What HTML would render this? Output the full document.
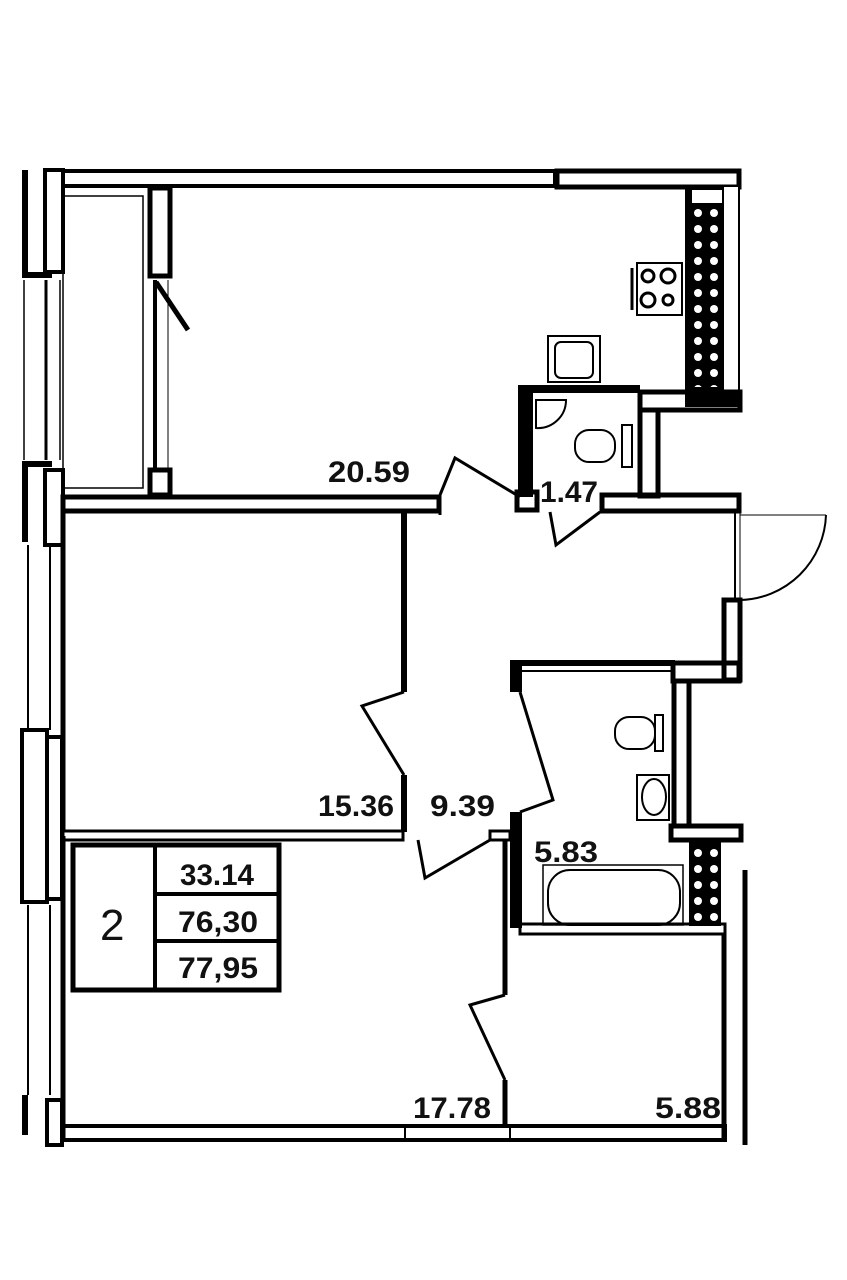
<!DOCTYPE html>
<html><head><meta charset="utf-8"><style>
html,body{margin:0;padding:0;background:#fff;width:847px;height:1280px;overflow:hidden}
svg{display:block}
text{font-family:"Liberation Sans",sans-serif;font-size:30px;fill:#111;font-weight:bold}
</style></head><body>
<svg width="847" height="1280" viewBox="0 0 847 1280" xmlns="http://www.w3.org/2000/svg">
<defs>
<pattern id="dots" x="690" y="205" width="16" height="16" patternUnits="userSpaceOnUse">
<rect width="16" height="16" fill="#000"/><circle cx="8" cy="8" r="4" fill="#fff"/>
</pattern>
</defs>
<g fill="none" stroke="#000">
<rect x="63" y="171" width="492" height="15" stroke-width="4"/>
<rect x="557" y="171" width="182" height="16" stroke-width="5"/>
<rect x="685" y="187" width="55" height="220" fill="#000" stroke="none"/>
<rect x="692" y="190" width="30" height="13" fill="#fff" stroke="none"/>
<rect x="724" y="187" width="14" height="205" fill="#fff" stroke="none"/>
<rect x="690" y="207" width="30" height="180" fill="url(#dots)" stroke="none"/>
<rect x="22" y="170" width="6" height="104" fill="#000" stroke="none"/>
<rect x="45" y="170" width="18" height="102" stroke-width="4"/>
<rect x="22" y="272" width="30" height="6" fill="#000" stroke="none"/>
<line x1="24" y1="280" x2="24" y2="460" stroke-width="1.5"/>
<line x1="46" y1="280" x2="46" y2="460" stroke-width="3"/>
<line x1="60" y1="280" x2="60" y2="460" stroke-width="1.5"/>
<rect x="22" y="461" width="30" height="6" fill="#000" stroke="none"/>
<rect x="22" y="462" width="6" height="80" fill="#000" stroke="none"/>
<rect x="45" y="470" width="18" height="75" stroke-width="4"/>
<line x1="28" y1="545" x2="28" y2="730" stroke-width="2"/>
<line x1="50" y1="545" x2="50" y2="730" stroke-width="2"/>
<rect x="22" y="730" width="25" height="172" stroke-width="4"/>
<rect x="47" y="737" width="15" height="162" stroke-width="4"/>
<line x1="28" y1="905" x2="28" y2="1095" stroke-width="2"/>
<line x1="50" y1="905" x2="50" y2="1095" stroke-width="2"/>
<rect x="22" y="1095" width="6" height="40" fill="#000" stroke="none"/>
<rect x="47" y="1100" width="15" height="45" stroke-width="4"/>
<rect x="63" y="196" width="80" height="292" stroke-width="1.5"/>
<rect x="150" y="188" width="20" height="88" stroke-width="5"/>
<rect x="150" y="470" width="20" height="25" stroke-width="5"/>
<line x1="155" y1="280" x2="155" y2="470" stroke-width="4"/>
<line x1="168" y1="280" x2="168" y2="470" stroke-width="1"/>
<line x1="156" y1="282" x2="188" y2="330" stroke-width="5"/>
<rect x="63" y="497" width="376" height="14" stroke-width="5"/>
<line x1="440" y1="497" x2="440" y2="515" stroke-width="3"/>
<line x1="404" y1="512" x2="404" y2="692" stroke-width="6"/>
<line x1="404" y1="775" x2="404" y2="832" stroke-width="6"/>
<polyline points="440,495 455,458 520,497" stroke-width="3"/>
<polyline points="404,692 362,706 404,775" stroke-width="3"/>
<polyline points="418,840 425,878 490,840" stroke-width="3"/>
<polyline points="505,995 470,1005 505,1080" stroke-width="3"/>
<polyline points="550,512 556,545 600,512" stroke-width="3"/>
<polyline points="520,692 553,800 520,812" stroke-width="3"/>
<rect x="518" y="385" width="15" height="112" fill="#000" stroke="none"/>
<rect x="518" y="385" width="122" height="8" fill="#000" stroke="none"/>
<rect x="517" y="492" width="20" height="18" stroke-width="5"/>
<rect x="640" y="392" width="100" height="18" stroke-width="5"/>
<rect x="640" y="410" width="18" height="86" stroke-width="5"/>
<rect x="602" y="495" width="137" height="16" stroke-width="5"/>
<rect x="548" y="336" width="52" height="46" stroke-width="2"/>
<rect x="555" y="342" width="38" height="36" rx="6" stroke-width="2"/>
<rect x="637" y="263" width="45" height="52" stroke-width="2"/>
<line x1="632" y1="268" x2="632" y2="310" stroke-width="3"/>
<circle cx="648" cy="276" r="6" stroke-width="3"/><circle cx="668" cy="276" r="7" stroke-width="3"/>
<circle cx="648" cy="300" r="7" stroke-width="3"/><circle cx="668" cy="300" r="5" stroke-width="3"/>
<path d="M536 400 h30 a28 28 0 0 1 -30 28 z" stroke-width="2"/>
<rect x="575" y="430" width="40" height="32" rx="14" stroke-width="2"/>
<rect x="622" y="425" width="10" height="42" stroke-width="2"/>
<line x1="735" y1="512" x2="735" y2="600" stroke-width="2"/>
<line x1="740" y1="512" x2="740" y2="600" stroke-width="1"/>
<line x1="740" y1="515" x2="826" y2="515" stroke-width="1"/>
<path d="M826 515 A88 88 0 0 1 740 600" stroke-width="2"/>
<rect x="724" y="600" width="16" height="80" stroke-width="5"/>
<rect x="510" y="660" width="12" height="32" fill="#000" stroke="none"/>
<rect x="510" y="812" width="12" height="116" fill="#000" stroke="none"/>
<line x1="510" y1="663" x2="675" y2="663" stroke-width="6"/>
<line x1="522" y1="671" x2="675" y2="671" stroke-width="2"/>
<rect x="673" y="663" width="66" height="18" stroke-width="5"/>
<rect x="674" y="681" width="15" height="145" stroke-width="5"/>
<rect x="671" y="826" width="70" height="14" stroke-width="5"/>
<rect x="689" y="840" width="32" height="86" fill="#000" stroke="none"/>
<rect x="691" y="842" width="28" height="80" fill="url(#dots)" stroke="none"/>
<rect x="520" y="924" width="205" height="10" stroke-width="3"/>
<rect x="543" y="865" width="140" height="60" stroke-width="1.5"/>
<rect x="548" y="870" width="132" height="55" rx="22" stroke-width="2"/>
<rect x="615" y="717" width="40" height="32" rx="14" stroke-width="2"/>
<rect x="655" y="715" width="8" height="36" stroke-width="2"/>
<rect x="637" y="775" width="32" height="45" stroke-width="2"/>
<ellipse cx="654" cy="797" rx="12" ry="18" stroke-width="2"/>
<rect x="63" y="831" width="340" height="9" stroke-width="3"/>
<rect x="490" y="831" width="20" height="9" stroke-width="3"/>
<line x1="505" y1="840" x2="505" y2="995" stroke-width="5"/>
<line x1="505" y1="1080" x2="505" y2="1128" stroke-width="5"/>
<line x1="724" y1="934" x2="724" y2="1140" stroke-width="5"/>
<line x1="745" y1="870" x2="745" y2="1145" stroke-width="5"/>
<rect x="63" y="1126" width="662" height="14" stroke-width="4"/>
<line x1="405" y1="1126" x2="405" y2="1140" stroke-width="2"/>
<line x1="510" y1="1126" x2="510" y2="1140" stroke-width="2"/>
<line x1="63" y1="836" x2="63" y2="1140" stroke-width="5"/>
<line x1="63" y1="512" x2="63" y2="831" stroke-width="5"/>
<rect x="73" y="845" width="206" height="145" stroke-width="5"/>
<line x1="155" y1="845" x2="155" y2="990" stroke-width="4"/>
<line x1="155" y1="894" x2="279" y2="894" stroke-width="4"/>
<line x1="155" y1="941" x2="279" y2="941" stroke-width="4"/>
</g>
<text x="328" y="482" textLength="82" lengthAdjust="spacingAndGlyphs">20.59</text>
<text x="540" y="502" textLength="58" lengthAdjust="spacingAndGlyphs">1.47</text>
<text x="318" y="816" textLength="76" lengthAdjust="spacingAndGlyphs">15.36</text>
<text x="430" y="816" textLength="65" lengthAdjust="spacingAndGlyphs">9.39</text>
<text x="534" y="862" textLength="64" lengthAdjust="spacingAndGlyphs">5.83</text>
<text x="413" y="1118" textLength="78" lengthAdjust="spacingAndGlyphs">17.78</text>
<text x="655" y="1118" textLength="66" lengthAdjust="spacingAndGlyphs">5.88</text>
<text x="180" y="885" textLength="74" lengthAdjust="spacingAndGlyphs">33.14</text>
<text x="178" y="932" textLength="80" lengthAdjust="spacingAndGlyphs">76,30</text>
<text x="178" y="978" textLength="80" lengthAdjust="spacingAndGlyphs">77,95</text>
<text x="100" y="940" style="font-size:44px;font-weight:normal">2</text>
</svg>
</body></html>
